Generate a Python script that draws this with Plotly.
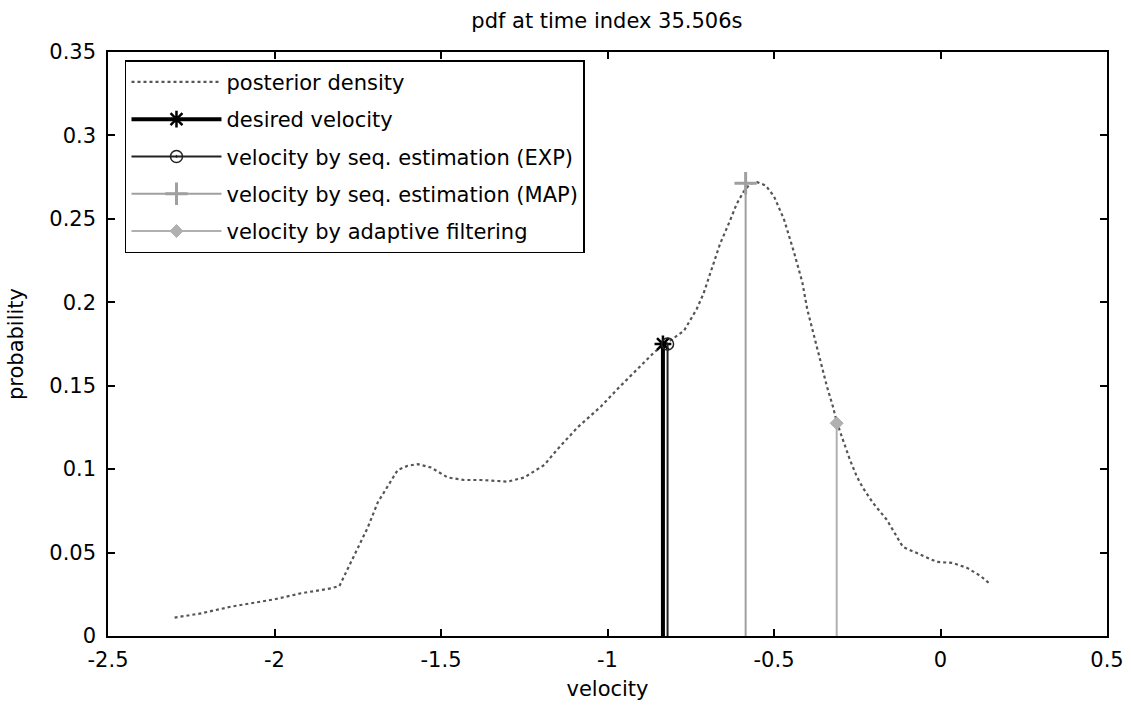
import plotly.graph_objects as go

# posterior density curve
vel = [-2.30, -2.22, -2.13, -2.04, -2.00, -1.92, -1.83, -1.805, -1.78, -1.75, -1.72, -1.69,
       -1.66, -1.63, -1.60, -1.57, -1.53, -1.48, -1.43, -1.38, -1.30, -1.25, -1.19, -1.15,
       -1.09, -1.02, -0.97, -0.92, -0.86, -0.83, -0.77, -0.732, -0.712, -0.692, -0.662,
       -0.632, -0.612, -0.592, -0.572, -0.55, -0.525, -0.50, -0.47, -0.44, -0.415, -0.40,
       -0.383, -0.362, -0.341, -0.323, -0.311, -0.293, -0.272, -0.251, -0.233, -0.203,
       -0.161, -0.113, -0.071, -0.011, 0.037, 0.080, 0.12, 0.15]
prob = [0.011, 0.0136, 0.0176, 0.0206, 0.022, 0.0256, 0.0286, 0.030, 0.040, 0.053, 0.065, 0.080,
        0.090, 0.0995, 0.102, 0.103, 0.101, 0.095, 0.0935, 0.0935, 0.0925, 0.095, 0.1025, 0.112,
        0.125, 0.1375, 0.148, 0.158, 0.170, 0.1745, 0.183, 0.196, 0.205, 0.217, 0.235,
        0.249, 0.259, 0.266, 0.271, 0.272, 0.270, 0.2635, 0.2497, 0.230, 0.212, 0.1957,
        0.182, 0.1657, 0.1495, 0.1375, 0.128, 0.1176, 0.1056, 0.0954, 0.0888, 0.0798,
        0.0696, 0.0534, 0.0498, 0.0444, 0.0438, 0.0408, 0.036, 0.031]

# stem series
stem_names = ["desired velocity", "velocity by seq. estimation (EXP)",
              "velocity by seq. estimation (MAP)", "velocity by adaptive filtering"]
stem_x = [-0.8335, -0.8196, -0.5852, -0.3117]
stem_y = [0.175, 0.175, 0.2713, 0.1275]

x_ticks = [-2.5, -2, -1.5, -1, -0.5, 0, 0.5]
x_ticktext = ["-2.5", "-2", "-1.5", "-1", "-0.5", "0", "0.5"]
y_ticks = [0, 0.05, 0.1, 0.15, 0.2, 0.25, 0.3, 0.35]
y_ticktext = ["0", "0.05", "0.1", "0.15", "0.2", "0.25", "0.3", "0.35"]

stem_colors = ["#000000", "#222222", "#a0a0a0", "#b0b0b0"]
stem_widths = [4, 2, 2, 2]
stem_symbols = ["asterisk-open", "circle-open-dot", "cross-thin-open", "diamond"]
stem_sizes = [14, 12, 16, 10]
marker_line_w = [2.5, 1.5, 3, 1]

FONT = "DejaVu Sans"
FS = 21

fig = go.Figure()
fig.add_trace(go.Scatter(x=vel, y=prob, mode="lines", name="posterior density",
                         legendgroup="g0",
                         line=dict(color="#555555", width=2.2, dash="dot")))

for i in range(len(stem_names)):
    fig.add_trace(go.Scatter(x=[stem_x[i], stem_x[i]], y=[0, stem_y[i]], mode="lines",
                             line=dict(color=stem_colors[i], width=stem_widths[i]),
                             showlegend=False, hoverinfo="skip"))
    fig.add_trace(go.Scatter(x=[stem_x[i]], y=[stem_y[i]], mode="lines+markers",
                             name=stem_names[i], legendgroup="g%d" % (i + 1),
                             line=dict(color=stem_colors[i], width=stem_widths[i]),
                             marker=dict(symbol=stem_symbols[i], size=stem_sizes[i],
                                         color=stem_colors[i],
                                         line=dict(color=stem_colors[i], width=marker_line_w[i]))))

axis_common = dict(showgrid=False, zeroline=False, showline=True, linecolor="black",
                   linewidth=1.5, mirror="ticks", ticks="inside", ticklen=7,
                   tickcolor="black", tickwidth=1.5, automargin=False,
                   tickfont=dict(family=FONT, size=FS, color="black"))

fig.update_xaxes(range=[-2.5, 0.5], tickvals=x_ticks, ticktext=x_ticktext,
                 ticklabelstandoff=4,
                 title=dict(text="velocity", font=dict(family=FONT, size=FS, color="black"),
                            standoff=10), **axis_common)
fig.update_yaxes(range=[0, 0.35], tickvals=y_ticks, ticktext=y_ticktext,
                 ticklabelstandoff=6,
                 title=dict(text="probability", font=dict(family=FONT, size=FS, color="black"),
                            standoff=20), **axis_common)

fig.update_layout(
    width=1131, height=707,
    margin=dict(l=108, r=24, t=52, b=71),
    paper_bgcolor="white", plot_bgcolor="white",
    font=dict(family=FONT, size=FS, color="black"),
    title=dict(text="pdf at time index 35.506s", x=0.5366, xanchor="center",
               y=1 - 21 / 707, yanchor="middle",
               font=dict(family=FONT, size=FS, color="black")),
    legend=dict(x=0.017, y=0.986, xanchor="left", yanchor="top", bgcolor="white",
                bordercolor="black", borderwidth=1.5, tracegroupgap=7, itemwidth=90,
                traceorder="grouped",
                font=dict(family=FONT, size=FS, color="black")),
)

fig.write_html("out.html")
